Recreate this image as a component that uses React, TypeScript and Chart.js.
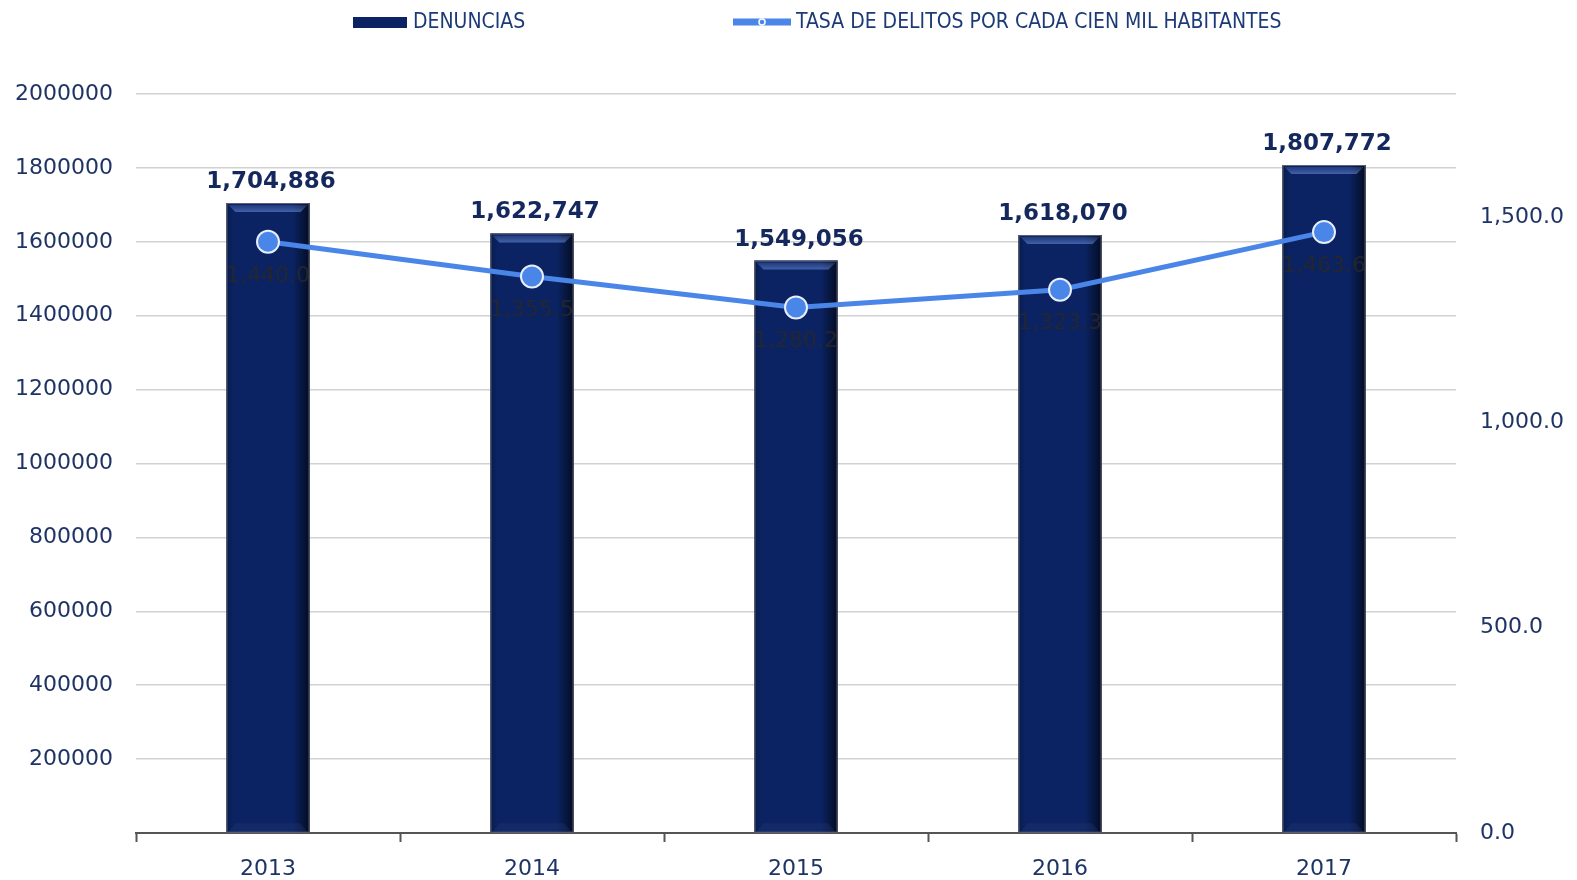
import React, { useEffect, useRef } from "react";
import { Chart, registerables } from "chart.js";

Chart.register(...registerables);

const years = ["2013", "2014", "2015", "2016", "2017"];
const denuncias = [1704886, 1622747, 1549056, 1618070, 1807772];
const tasa = [1440.0, 1355.5, 1280.2, 1323.3, 1463.6];
const rightTicks = [0, 500, 1000, 1500];
const legendLabels = ["DENUNCIAS", "TASA DE DELITOS POR CADA CIEN MIL HABITANTES"];

const NAVY = "#0b2363";
const LINE = "#4a86e8";
const TEXT = "#1f3466";
const FONT = '"DejaVu Sans", Verdana, sans-serif';
const LEGEND_FONT = '"Liberation Sans Narrow", "DejaVu Sans Condensed", "Liberation Sans", sans-serif';

const barStylePlugin = {
  id: "barStyle",
  afterDatasetDraw(chart: any, args: any) {
    if (args.index !== 0) return;
    const ctx = chart.ctx;
    const meta = chart.getDatasetMeta(0);
    meta.data.forEach((bar: any) => {
      const { x, y, base, width } = bar.getProps(["x", "y", "base", "width"], true);
      const l = x - width / 2;
      const r = x + width / 2;
      const t = y;
      const b = base;
      ctx.save();
      ctx.fillStyle = NAVY;
      ctx.fillRect(l, t, r - l, b - t);
      const g = ctx.createLinearGradient(l, 0, r, 0);
      g.addColorStop(0, "rgba(0,0,0,0.25)");
      g.addColorStop(0.08, "rgba(0,0,0,0)");
      g.addColorStop(0.8, "rgba(0,0,0,0)");
      g.addColorStop(1, "rgba(0,0,0,0.65)");
      ctx.fillStyle = g;
      ctx.fillRect(l, t, r - l, b - t);
      const bev = 9;
      ctx.beginPath();
      ctx.moveTo(l + 2, t + 2);
      ctx.lineTo(r - 2, t + 2);
      ctx.lineTo(r - bev, t + bev);
      ctx.lineTo(l + bev, t + bev);
      ctx.closePath();
      const vg = ctx.createLinearGradient(0, t, 0, t + bev);
      vg.addColorStop(0, "rgba(120,150,220,0.1)");
      vg.addColorStop(1, "rgba(120,160,240,0.5)");
      ctx.fillStyle = vg;
      ctx.fill();
      ctx.beginPath();
      ctx.moveTo(l + 2, b);
      ctx.lineTo(r - 2, b);
      ctx.lineTo(r - bev, b - bev);
      ctx.lineTo(l + bev, b - bev);
      ctx.closePath();
      ctx.fillStyle = "rgba(40,60,120,0.3)";
      ctx.fill();
      ctx.strokeStyle = "rgba(120,120,130,0.8)";
      ctx.lineWidth = 1;
      ctx.strokeRect(l + 0.5, t + 0.5, r - l - 1, b - t - 0.5);
      ctx.restore();
    });
  },
};

const labelsPlugin = {
  id: "valueLabels",
  afterDatasetsDraw(chart: any) {
    const ctx = chart.ctx;
    ctx.save();
    ctx.textAlign = "center";
    ctx.textBaseline = "middle";
    const barMeta = chart.getDatasetMeta(0);
    ctx.font = `bold 23px ${FONT}`;
    ctx.fillStyle = "#14285e";
    barMeta.data.forEach((bar: any, i: number) => {
      ctx.fillText(denuncias[i].toLocaleString("en-US"), bar.x + 3, bar.y - 21);
    });
    const lineMeta = chart.getDatasetMeta(1);
    ctx.font = `22px ${FONT}`;
    ctx.fillStyle = "rgba(40,40,40,0.85)";
    lineMeta.data.forEach((pt: any, i: number) => {
      ctx.fillText(
        tasa[i].toLocaleString("en-US", { minimumFractionDigits: 1, maximumFractionDigits: 1 }),
        pt.x,
        pt.y + 34
      );
    });
    ctx.restore();
  },
};

const legendPlugin = {
  id: "customLegend",
  afterDraw(chart: any) {
    const ctx = chart.ctx;
    ctx.save();
    ctx.fillStyle = NAVY;
    ctx.fillRect(353, 17, 54, 11);
    ctx.font = `21px ${LEGEND_FONT}`;
    ctx.textBaseline = "middle";
    ctx.textAlign = "left";
    ctx.fillStyle = "#1c3a78";
    ctx.fillText(legendLabels[0], 413, 23);
    ctx.strokeStyle = LINE;
    ctx.lineWidth = 7;
    ctx.beginPath();
    ctx.moveTo(733, 22);
    ctx.lineTo(791, 22);
    ctx.stroke();
    ctx.beginPath();
    ctx.arc(762, 22, 3, 0, Math.PI * 2);
    ctx.fillStyle = LINE;
    ctx.fill();
    ctx.lineWidth = 1.5;
    ctx.strokeStyle = "#ffffff";
    ctx.stroke();
    ctx.fillStyle = "#1c3a78";
    ctx.fillText(legendLabels[1], 796, 23);
    ctx.restore();
  },
};

export default function App() {
  const ref = useRef<HTMLCanvasElement | null>(null);

  useEffect(() => {
    document.body.style.margin = "0";
    if (!ref.current) return;
    const chart = new Chart(ref.current, {
      type: "bar",
      data: {
        labels: years,
        datasets: [
          {
            type: "bar",
            label: legendLabels[0],
            data: denuncias,
            backgroundColor: NAVY,
            yAxisID: "y",
            barPercentage: 0.315,
            categoryPercentage: 1,
            order: 1,
          },
          {
            type: "line",
            label: legendLabels[1],
            data: tasa,
            borderColor: LINE,
            backgroundColor: LINE,
            borderWidth: 5,
            pointRadius: 11,
            pointBorderWidth: 2,
            pointBorderColor: "#e8eefa",
            pointBackgroundColor: LINE,
            yAxisID: "y1",
            order: 0,
            tension: 0,
          } as any,
        ],
      },
      options: {
        animation: false,
        responsive: false,
        layout: { padding: { top: 94, left: 0, right: 0, bottom: 0 } },
        plugins: {
          legend: { display: false },
          tooltip: { enabled: false },
        },
        scales: {
          x: {
            offset: true,
            grid: {
              offset: true,
              drawOnChartArea: false,
              drawTicks: true,
              tickLength: 9,
              tickWidth: 2,
              tickColor: "#555",
            },
            border: { display: true, color: "#555", width: 2 },
            ticks: {
              font: { family: FONT, size: 22 },
              color: TEXT,
              padding: 14,
            },
            afterFit(scale: any) {
              scale.height = 47;
            },
          },
          y: {
            position: "left",
            min: 0,
            max: 2000000,
            grid: { color: "#d2d2d2", lineWidth: 1.5, drawTicks: false },
            border: { display: false },
            ticks: {
              stepSize: 200000,
              padding: 23,
              font: { family: FONT, size: 22 },
              color: TEXT,
              callback: (v: any) => (v === 0 ? "" : String(v)),
            },
            afterFit(scale: any) {
              scale.width = 136;
            },
          },
          y1: {
            position: "right",
            min: 0,
            max: 1800,
            grid: { display: false, drawOnChartArea: false, drawTicks: false },
            border: { display: false },
            afterBuildTicks(scale: any) {
              scale.ticks = rightTicks.map((v) => ({ value: v }));
            },
            ticks: {
              padding: 24,
              font: { family: FONT, size: 22 },
              color: TEXT,
              callback: (v: any) =>
                Number(v).toLocaleString("en-US", { minimumFractionDigits: 1, maximumFractionDigits: 1 }),
            },
            afterFit(scale: any) {
              scale.width = 121;
            },
          },
        },
      } as any,
      plugins: [barStylePlugin, labelsPlugin, legendPlugin],
    });
    return () => chart.destroy();
  }, []);

  return (
    <div style={{ position: "absolute", left: 0, top: 0, width: 1577, height: 880, background: "#fff" }}>
      <canvas ref={ref} width={1577} height={880} style={{ width: 1577, height: 880 }} />
    </div>
  );
}
